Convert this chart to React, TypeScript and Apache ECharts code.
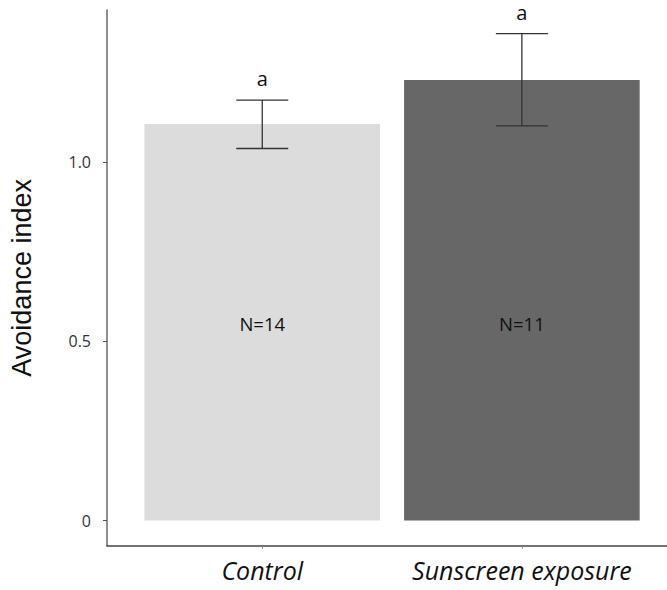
import React, { useEffect, useRef } from "react";
import * as echarts from "echarts";

const categories = ["Control", "Sunscreen exposure"];
const means = [1.105, 1.228];
const errUpper = [1.172, 1.357];
const errLower = [1.037, 1.1];
const sigLetters = ["a", "a"];
const sampleSizes = ["N=14", "N=11"];
const nLabelLevel = 0.55;
const yTicks = [0, 0.5, 1.0];
const xTicks = [0, 1];
const barColors = ["#dcdcdc", "#676767"];

export default function App() {
  const ref = useRef<HTMLDivElement>(null);
  useEffect(() => {
    if (!ref.current) return;
    const chart = echarts.init(ref.current, null, { renderer: "svg" });
    const font = "'Open Sans', 'DejaVu Sans', sans-serif";
    chart.setOption({
      animation: false,
      grid: { left: 99, right: 0, top: 10, bottom: 44.3, containLabel: false },
      xAxis: {
        type: "value",
        min: -0.598,
        max: 1.559,
        splitLine: { show: false },
        axisLine: { show: true, onZero: false, lineStyle: { color: "#444", width: 1.5 } },
        axisTick: { show: true, customValues: xTicks, length: 3, lineStyle: { color: "#888" } },
        axisLabel: {
          customValues: xTicks,
          formatter: (v: number) => categories[Math.round(v)] ?? "",
          margin: 12,
          fontSize: 25,
          fontStyle: "italic",
          fontFamily: font,
          color: "#111",
        },
      },
      yAxis: {
        type: "value",
        min: -0.07,
        max: 1.423,
        splitLine: { show: false },
        axisLine: { show: true, onZero: false, lineStyle: { color: "#6a6a6a", width: 1.5 } },
        axisTick: { show: true, customValues: yTicks, length: 4, lineStyle: { color: "#555" } },
        axisLabel: {
          customValues: yTicks,
          formatter: (v: number) => (v === 0 ? "0" : v.toFixed(1)),
          margin: 16,
          fontSize: 16,
          fontFamily: font,
          color: "#333",
        },
        name: "Avoidance index",
        nameLocation: "middle",
        nameRotate: 90,
        nameGap: 72,
        nameTextStyle: { fontSize: 27, fontFamily: "'Liberation Sans', Arial, sans-serif", color: "#111" },
      },
      series: [
        {
          type: "bar",
          barWidth: 235.6,
          data: means.map((m, i) => ({ value: [i, m], itemStyle: { color: barColors[i] } })),
        },
        {
          type: "custom",
          data: means.map((m, i) => [i, errLower[i], errUpper[i]]),
          renderItem: (params: any, api: any) => {
            const i = api.value(0);
            const lo = api.coord([i, api.value(1)]);
            const hi = api.coord([i, api.value(2)]);
            const half = 26;
            const style = { stroke: "#333", lineWidth: 1.3 };
            const idx = params.dataIndex;
            return {
              type: "group",
              children: [
                { type: "line", shape: { x1: hi[0], y1: hi[1], x2: lo[0], y2: lo[1] }, style },
                { type: "line", shape: { x1: hi[0] - half, y1: hi[1], x2: hi[0] + half, y2: hi[1] }, style },
                { type: "line", shape: { x1: lo[0] - half, y1: lo[1], x2: lo[0] + half, y2: lo[1] }, style },
                {
                  type: "text",
                  x: hi[0],
                  y: hi[1] - 21.5,
                  style: {
                    text: sigLetters[idx],
                    fontSize: 20,
                    fontFamily: font,
                    fill: "#111",
                    align: "center",
                    verticalAlign: "middle",
                  },
                },
              ],
            };
          },
          z: 5,
        },
        {
          type: "custom",
          data: sampleSizes.map((_, i) => [i, nLabelLevel]),
          renderItem: (params: any, api: any) => {
            const p = api.coord([api.value(0), api.value(1)]);
            return {
              type: "text",
              x: p[0],
              y: p[1],
              style: {
                text: sampleSizes[params.dataIndex],
                fontSize: 18.5,
                fontFamily: font,
                fill: "#111",
                align: "center",
                verticalAlign: "middle",
              },
            };
          },
          z: 6,
        },
      ],
    });
    return () => chart.dispose();
  }, []);
  return <div ref={ref} style={{ position: "absolute", left: 0, top: 0, width: 667, height: 590 }} />;
}
